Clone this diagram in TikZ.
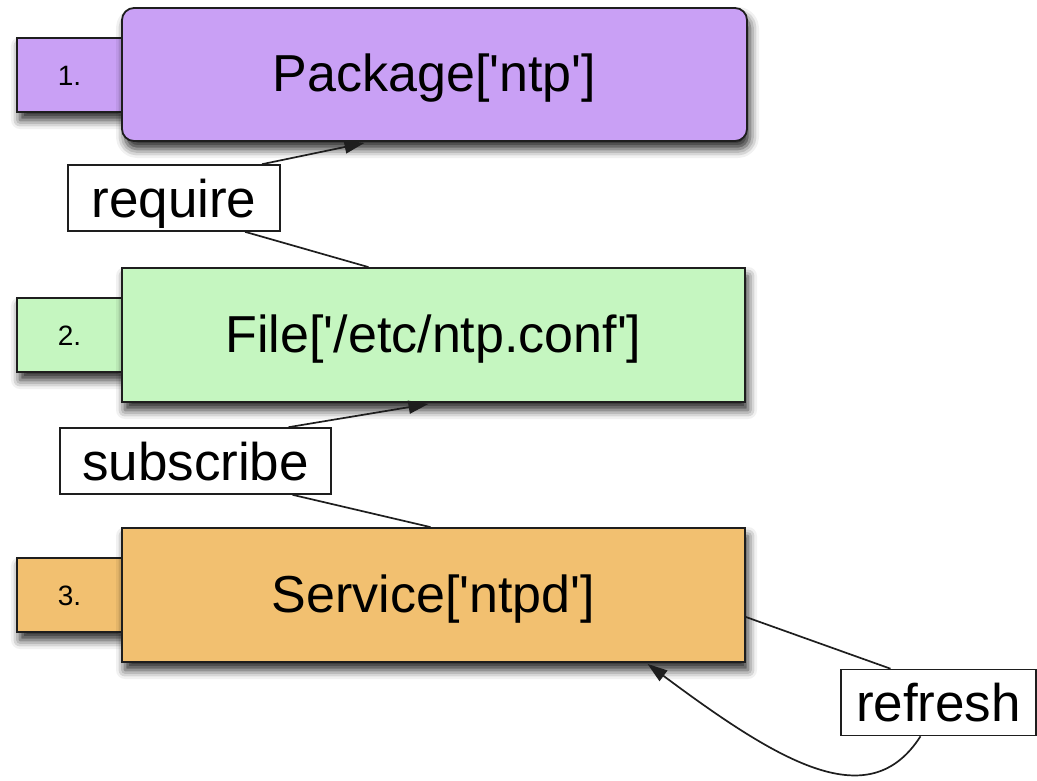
\documentclass[tikz,border=0pt]{standalone}
\usepackage{fontspec}
\setmainfont{Liberation Sans}
\usetikzlibrary{arrows.meta,shadows.blur}
\definecolor{pkgfill}{RGB}{201,160,245}
\definecolor{filefill}{RGB}{197,246,192}
\definecolor{svcfill}{RGB}{242,192,112}
\definecolor{edgeclr}{RGB}{30,30,30}
\newcommand{\sq}{\textquotesingle}
\tikzset{
  boxshadow/.style={blur shadow={shadow xshift=3pt,shadow yshift=-8pt,shadow blur radius=9pt,shadow opacity=85}},
  resbox/.style={draw=edgeclr,line width=1.8pt,minimum width=623pt,minimum height=134pt,
    inner sep=0pt,text height=34pt,text depth=0pt,font=\fontsize{52}{60}\selectfont,boxshadow},
  tabbox/.style={draw=edgeclr,line width=1.8pt,minimum width=105pt,minimum height=74pt,
    inner sep=0pt,text height=20pt,text depth=0pt,font=\fontsize{28}{30}\selectfont,boxshadow},
  relbox/.style={draw=edgeclr,fill=white,line width=1.6pt,minimum height=66pt,inner sep=0pt,
    text height=38pt,text depth=0pt,font=\fontsize{53}{60}\selectfont},
  link/.style={draw=edgeclr,line width=1.7pt},
  linkarrow/.style={link,-{Triangle[length=20pt,width=13pt]}}
}
\begin{document}
\begin{tikzpicture}[x=1pt,y=-1pt]
\useasboundingbox (0,0) rectangle (1037,780);

% resource boxes with their order tabs
\node[tabbox,fill=pkgfill] (tab1) at (69.5,75) {1.};
\node[resbox,fill=pkgfill,rounded corners=12pt,minimum width=625pt,minimum height=133pt] (pkg) at (434.5,74.5) {Package[\sq ntp\sq]};

\node[tabbox,fill=filefill] (tab2) at (69.5,335) {2.};
\node[resbox,fill=filefill] (file) at (433.5,335) {File[\sq/etc/ntp.conf\sq]};

\node[tabbox,fill=svcfill] (tab3) at (69.5,595) {3.};
\node[resbox,fill=svcfill] (svc) at (433.5,595) {Service[\sq ntpd\sq]};

% relationship labels
\node[relbox,minimum width=212pt] (req) at (174,198) {require};
\node[relbox,minimum width=271pt] (sub) at (195.5,461) {subscribe};
\node[relbox,minimum width=195pt] (ref) at (938.5,702.5) {refresh};

% require
\draw[link] ([xshift=-65pt]file.north) -- ([xshift=71pt]req.south);
\draw[linkarrow] ([xshift=88pt]req.north) -- ([xshift=-70pt,yshift=-1pt]pkg.south);

% subscribe
\draw[link] ([xshift=-3pt]svc.north) -- ([xshift=97pt]sub.south);
\draw[linkarrow] ([xshift=93pt]sub.north) -- ([xshift=-5pt,yshift=-1pt]file.south);

% refresh
\draw[link] ([yshift=-22pt]svc.east) -- ([xshift=-48pt]ref.north);
\draw[linkarrow] ([xshift=-18pt]ref.south) .. controls (870,815) and (783,765) .. ([xshift=214pt,yshift=-1pt]svc.south);
\end{tikzpicture}
\end{document}
